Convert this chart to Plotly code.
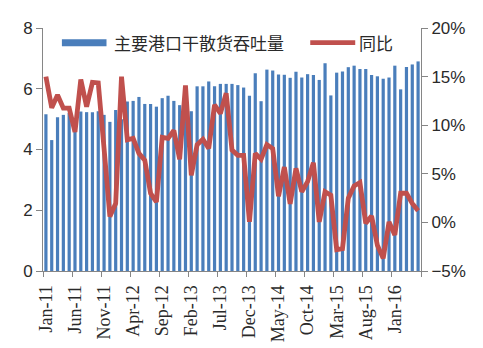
import plotly.graph_objects as go

months = ["Jan","Feb","Mar","Apr","May","Jun","Jul","Aug","Sep","Oct","Nov","Dec"]
categories = [f"{months[m]}-{str(y)[2:]}" for y in range(2011, 2017) for m in range(12)][:65]

throughput = [5.16, 4.31, 5.06, 5.14, 5.20, 5.00, 5.25, 5.23, 5.23, 5.26,
              5.14, 4.91, 5.30, 5.00, 5.58, 5.60, 5.73, 5.50, 5.50, 5.41,
              5.69, 5.77, 5.60, 5.46, 5.60, 5.26, 6.08, 6.08, 6.24, 6.08,
              6.16, 6.16, 6.16, 6.12, 6.04, 5.77, 6.51, 5.59, 6.63, 6.60,
              6.47, 6.46, 6.36, 6.56, 6.37, 6.48, 6.45, 6.29, 6.84, 5.78,
              6.53, 6.57, 6.71, 6.76, 6.65, 6.65, 6.45, 6.41, 6.33, 6.37,
              6.76, 5.98, 6.72, 6.80, 6.90]

yoy = [15.0, 11.8, 13.1, 11.75, 11.75, 9.3, 14.7, 11.9, 14.4, 14.35,
       7.6, 0.6, 1.95, 15.0, 8.5, 8.65, 7.1, 6.4, 3.0, 2.1,
       8.75, 8.65, 9.45, 6.5, 14.1, 4.85, 8.0, 8.55, 7.6, 12.1,
       11.2, 13.3, 7.45, 6.9, 6.9, 0.05, 7.1, 6.5, 8.0, 7.6,
       2.7, 5.7, 1.9, 5.55, 3.15, 4.2, 6.15, 0.05, 3.15, 2.8,
       -2.8, -2.7, 2.5, 3.75, 4.1, -0.1, 0.65, -2.35, -3.7, 0.05,
       -1.3, 3.0, 3.0, 1.95, 1.2]

bar_name = "主要港口干散货吞吐量"
line_name = "同比"
label_step = 5

idx = list(range(len(categories)))

fig = go.Figure()
fig.add_trace(go.Bar(x=idx, y=throughput, name=bar_name, width=0.55,
                     marker=dict(color="#4A7EBB", line=dict(width=0)),
                     yaxis="y"))
fig.add_trace(go.Scatter(x=idx, y=yoy, name=line_name, mode="lines",
                         line=dict(color="#C0504D", width=4.8),
                         yaxis="y2"))

axis_col = "#868686"
txt_col = "#2a2a2a"
fig.update_layout(
    width=483, height=348,
    margin=dict(l=43, r=62, t=28, b=77),
    plot_bgcolor="white", paper_bgcolor="white",
    showlegend=False,
    xaxis=dict(range=[-0.5, len(categories) - 0.5],
               tickvals=idx[::label_step],
               ticktext=categories[::label_step],
               tickangle=-90, ticks="", showgrid=False, zeroline=False,
               showline=True, linecolor=axis_col, linewidth=1,
               automargin=False, ticklabelstandoff=6,
               tickfont=dict(family="Liberation Serif", size=18, color=txt_col),
               minor=dict(tickvals=[i - 0.5 for i in idx[::label_step]] + [len(categories) - 0.5],
                          ticks="outside", ticklen=5, tickcolor=axis_col, showgrid=False),
               fixedrange=True),
    yaxis=dict(range=[0, 8], dtick=2, showgrid=False, zeroline=False,
               showline=True, linecolor=axis_col, linewidth=1,
               ticks="outside", ticklen=6, tickcolor=axis_col, automargin=False,
               tickfont=dict(family="Liberation Sans", size=17, color=txt_col)),
    yaxis2=dict(range=[-5, 20], dtick=5, overlaying="y", side="right",
                ticksuffix="%", showgrid=False, zeroline=False,
                showline=True, linecolor=axis_col, linewidth=1,
                ticks="outside", ticklen=6, tickcolor=axis_col, automargin=False,
                tickfont=dict(family="Liberation Sans", size=17, color=txt_col)),
)

# legend drawn inside the plot area (wide swatches like the original)
fig.add_shape(type="rect", xref="paper", yref="paper",
              x0=0.050, x1=0.168, y0=0.925, y1=0.954,
              fillcolor="#4A7EBB", line=dict(width=0))
fig.add_shape(type="line", xref="paper", yref="paper",
              x0=0.707, x1=0.826, y0=0.940, y1=0.940,
              line=dict(color="#C0504D", width=4.8))
fig.add_annotation(text=bar_name, xref="paper", yref="paper", x=0.183, y=0.940,
                   xanchor="left", yanchor="middle", showarrow=False,
                   font=dict(family="Noto Sans CJK SC", size=17, color=txt_col))
fig.add_annotation(text=line_name, xref="paper", yref="paper", x=0.832, y=0.940,
                   xanchor="left", yanchor="middle", showarrow=False,
                   font=dict(family="Noto Sans CJK SC", size=17, color=txt_col))

fig.write_html("out.html")
